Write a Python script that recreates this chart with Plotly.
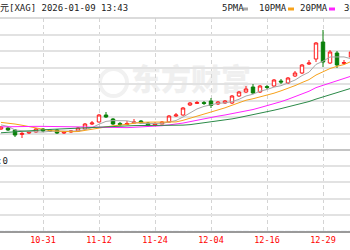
import pandas as pd
import plotly.graph_objects as go

# ---------------- data ----------------
dates = ["2025-10-23", "2025-10-24", "2025-10-27", "2025-10-28", "2025-10-29", "2025-10-30", "2025-10-31",
         "2025-11-03", "2025-11-04", "2025-11-05", "2025-11-06", "2025-11-07", "2025-11-10", "2025-11-11",
         "2025-11-12", "2025-11-13", "2025-11-14", "2025-11-17", "2025-11-18", "2025-11-19", "2025-11-20",
         "2025-11-21", "2025-11-24", "2025-11-25", "2025-11-26", "2025-11-27", "2025-11-28",
         "2025-12-01", "2025-12-02", "2025-12-03", "2025-12-04", "2025-12-05", "2025-12-08", "2025-12-09",
         "2025-12-10", "2025-12-11", "2025-12-12", "2025-12-15", "2025-12-16", "2025-12-17", "2025-12-18",
         "2025-12-19", "2025-12-22", "2025-12-23", "2025-12-24", "2025-12-26", "2025-12-29", "2025-12-30",
         "2025-12-31", "2026-01-02", "2026-01-05"]

open_ = [48.55, 48.9, 48.2, 46.65, 47.15, 47.5, 48.55, 48.2, 48.2, 47.15, 47.5, 47.85, 48.55, 50.3,
         51.0, 53.45, 52.05, 50.5, 50.1, 50.65, 51.35, 50.65, 49.95, 50.3, 51.0, 53.1, 53.45,
         56.95, 57.5, 57.8, 58.35, 57.3, 57.65, 57.65, 60.1, 61.5, 63.25, 61.5, 63.4, 63.6, 65.35,
         64.65, 67.1, 68.15, 71.3, 73.05, 79.0, 71.65, 75.15, 71.5, 73.75]
high = [49.6, 49.25, 48.55, 47.5, 47.85, 48.9, 48.9, 48.55, 48.55, 47.85, 48.2, 49.25, 50.65, 51.35,
        53.8, 54.5, 52.4, 51.0, 51.35, 52.05, 51.7, 51.0, 51.0, 51.35, 53.45, 54.15, 56.25,
        58.0, 58.35, 58.35, 59.4, 58.35, 58.7, 60.45, 61.85, 63.6, 64.3, 63.95, 63.95, 66.05, 66.05,
        66.75, 68.85, 71.3, 72.7, 79.0, 83.2, 76.2, 75.85, 72.7, 76.2]
low = [48.2, 47.85, 45.75, 45.4, 46.8, 47.15, 47.5, 47.5, 46.8, 46.8, 47.15, 47.5, 48.4, 49.95,
       50.8, 52.4, 49.95, 49.6, 49.95, 50.65, 50.3, 49.25, 49.6, 50.3, 50.8, 52.75, 53.2,
       56.6, 57.3, 56.95, 55.9, 56.95, 57.3, 57.3, 59.75, 61.15, 60.8, 61.15, 62.55, 63.25, 64.3,
       64.3, 66.75, 67.8, 70.95, 72.0, 70.25, 71.3, 69.9, 70.95, 73.4]
close = [49.25, 48.2, 46.45, 47.0, 47.5, 48.55, 47.85, 47.85, 47.15, 47.5, 47.85, 48.9, 50.3, 50.65,
         53.45, 52.75, 50.3, 50.1, 50.5, 51.0, 50.65, 49.8, 50.3, 51.0, 53.1, 53.45, 55.9,
         57.65, 57.8, 57.5, 56.8, 58.0, 58.35, 60.1, 61.5, 62.55, 61.15, 63.6, 63.1, 65.7, 65.0,
         66.4, 68.15, 70.95, 71.65, 78.65, 72.0, 75.5, 70.95, 71.8, 75.5]

# closes of the 29 sessions before the first visible candle (off-screen, feed the moving averages)
prior_close = [42.3, 42.6, 42.6, 41.7, 42.0, 43.1, 43.9, 44.0, 43.9, 45.1, 46.4, 46.7, 46.4, 47.3, 47.1,
               48.0, 48.6, 48.0, 49.0, 49.7, 50.1, 50.2, 51.3, 53.0, 54.0, 50.9, 52.6, 48.7, 48.5]

volume = [0] * len(dates)

tick_dates = ["2025-10-31", "2025-11-12", "2025-11-24", "2025-12-04", "2025-12-16", "2025-12-29"]
tick_labels = ["10-31", "11-12", "11-24", "12-04", "12-16", "12-29"]

ma_windows = [5, 10, 20, 30]
ma_names = ["5PMA", "10PMA", "20PMA", "30PMA"]
ma_colors = ["#a8a8a8", "#f7a21b", "#ff22ff", "#2b8a48"]

title_text = "美元[XAG] 2026-01-09 13:43"
volume_text = "成交量:0"

# ---------------- figure ----------------
W, H = 350, 250
T, B = 18, 19
PH = H - T - B
SEP = 150  # pixel row of the panel separator


def py(pix):
    return (H - B - pix) / PH


xi = list(range(len(dates)))
tick_idx = [dates.index(d) for d in tick_dates]
i0 = tick_idx[0]
xrange_ = [i0 - 43 / 7, i0 + (W - 43) / 7]

fig = go.Figure()

fig.add_trace(go.Candlestick(
    x=xi, open=open_, high=high, low=low, close=close,
    increasing=dict(line=dict(color="#ff1a1a", width=1), fillcolor="#ffffff"),
    decreasing=dict(line=dict(color="#0a800a", width=1), fillcolor="#0a800a"),
    whiskerwidth=0, showlegend=False, hoverinfo="skip"))

all_close = pd.Series(prior_close + close)
n_prior = len(prior_close)
for w, name, col in zip(ma_windows, ma_names, ma_colors):
    ma = all_close.rolling(w).mean().iloc[n_prior:].tolist()
    fig.add_trace(go.Scatter(x=xi, y=ma, mode="lines", name=name,
                             line=dict(color=col, width=1), showlegend=False, hoverinfo="skip"))

# lower panel (volume is zero for spot silver)
fig.add_trace(go.Bar(x=xi, y=volume, xaxis="x2", yaxis="y2", marker_color="#ff1a1a",
                     showlegend=False, hoverinfo="skip"))

ymin, ymax = 41.2, 87.4
main_ticks = [ymin + (ymax - ymin) * i / 8 for i in range(9)]

fig.update_layout(
    width=W, height=H, margin=dict(l=0, r=0, t=T, b=B),
    paper_bgcolor="white", plot_bgcolor="white", showlegend=False,
    xaxis=dict(anchor="y", range=xrange_, tickvals=tick_idx, showticklabels=False, ticks="",
               showgrid=True, gridcolor="#d4d4d4", gridwidth=1, griddash="4px,3px",
               zeroline=False, rangeslider=dict(visible=False), fixedrange=True),
    xaxis2=dict(anchor="y2", range=xrange_, tickvals=tick_idx, ticktext=tick_labels, ticks="",
                showgrid=True, gridcolor="#d4d4d4", gridwidth=1, griddash="4px,3px",
                zeroline=False, showline=True, linecolor="#9a9a9a", linewidth=1.5,
                tickfont=dict(family="DejaVu Sans Mono", size=8.5, color="#ff0000"), fixedrange=True),
    yaxis=dict(domain=[py(SEP), 1], range=[ymin, ymax], tickvals=main_ticks, showticklabels=False,
               ticks="", gridcolor="#e2e2e2", gridwidth=1.5, zeroline=False, fixedrange=True),
    yaxis2=dict(domain=[0, py(SEP)], range=[0, 1], tickvals=[0.2, 0.4, 0.6, 0.8], showticklabels=False,
                ticks="", gridcolor="#e2e2e2", gridwidth=1.5, zeroline=False, fixedrange=True),
)

shapes = [
    dict(type="line", xref="paper", yref="paper", x0=0, x1=1, y0=py(SEP), y1=py(SEP),
         line=dict(color="#c4c4c4", width=2)),
    dict(type="line", xref="paper", yref="paper", x0=0, x1=1, y0=1, y1=1,
         line=dict(color="#cfcfcf", width=1.5)),
    # watermark
    dict(type="rect", xref="paper", yref="paper", x0=130 / W, x1=252 / W, y0=py(99), y1=py(65),
         line=dict(width=0), fillcolor="rgba(0,0,0,0)", layer="below",
         label=dict(text="东方财富", textposition="middle center",
                    font=dict(family="Noto Sans CJK SC", size=30, color="#efefef", weight=900))),
    dict(type="circle", xref="paper", yref="paper", x0=100 / W, x1=127 / W, y0=py(96), y1=py(69),
         line=dict(color="#f1f1f1", width=4), layer="below"),
]

# legend swatches
sw = [(243, 248, ma_colors[0]), (288, 294, ma_colors[1]), (329, 335, ma_colors[2]), (374, 380, ma_colors[3])]
for x0, x1, col in sw:
    shapes.append(dict(type="rect", xref="paper", yref="paper", x0=x0 / W, x1=x1 / W,
                       y0=py(10.5), y1=py(7.5), line=dict(width=0), fillcolor=col))
fig.update_layout(shapes=shapes)

font_txt = dict(family="DejaVu Sans Mono, Noto Sans CJK SC", size=9, color="#222222")
ann = [
    dict(text=title_text, x=-11 / W, y=py(8), xref="paper", yref="paper", xanchor="left",
         yanchor="middle", showarrow=False, font=font_txt),
    dict(text=volume_text, x=10 / W, y=py(160), xref="paper", yref="paper", xanchor="right",
         yanchor="middle", showarrow=False, font=font_txt),
]
for name, xpix in zip(ma_names, [220, 257, 298, 342]):
    ann.append(dict(text=name, x=xpix / W, y=py(8), xref="paper", yref="paper", xanchor="left",
                    yanchor="middle", showarrow=False, font=font_txt))
fig.update_layout(annotations=ann)

fig.write_html("out.html")
